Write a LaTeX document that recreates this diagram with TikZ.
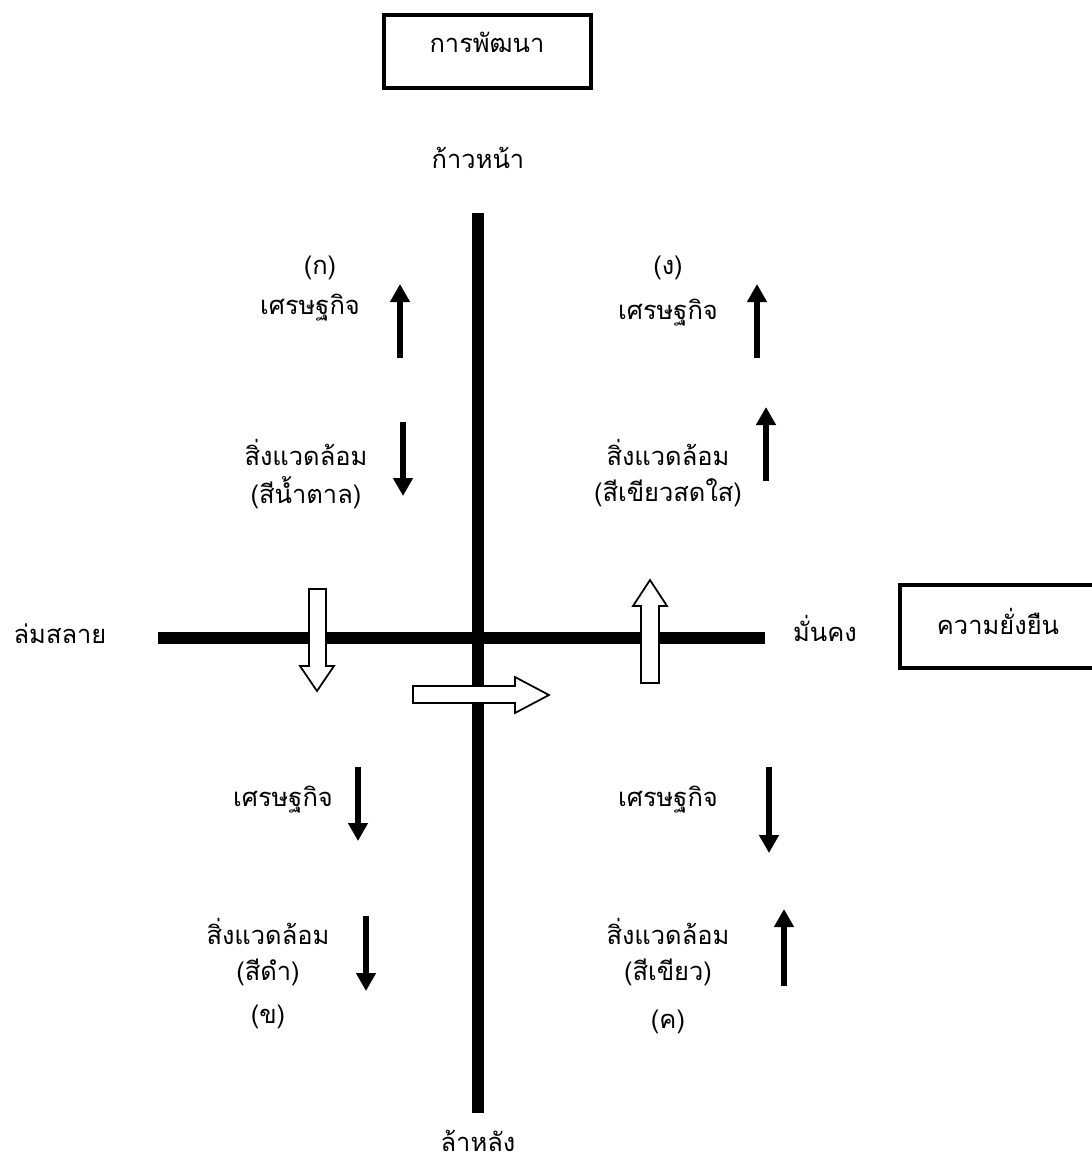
\documentclass[tikz,border=0pt]{standalone}
\usepackage{fontspec}
\newfontfamily\thaifont[Script=Thai]{Loma}
\usetikzlibrary{arrows.meta}

\tikzset{
  lbl/.style={font=\thaifont\fontsize{14.5}{17}\selectfont, inner sep=0pt},
  axis/.style={line width=6.8pt},
  ind/.style={line width=3.4pt, -{Triangle[length=0.36cm,width=0.38cm]}},
  blk/.style={draw, line width=1pt, fill=white, line join=miter},
  frm/.style={draw, line width=2.8pt}
}

\begin{document}
\begin{tikzpicture}[x=0.02cm,y=-0.02cm]
           \useasboundingbox (0,0) rectangle (1092,1171);
           % boxes
           \draw[frm] (384,15) rectangle (591,88);
           \node[lbl] (dev) at (487,42) {การพัฒนา};
           \draw[frm] (900,585) rectangle (1110,668);
           \node[lbl] (sus) at (998,621) {ความยั่งยืน};
           % axes
           \draw[axis] (478,213)--(478,1113); %แกนตั้ง
           \draw[axis] (158,638)--(765,638); %แกนนอน
           \node[lbl] (fwd) at (478,158) {ก้าวหน้า};
           \node[lbl] (bwd) at (478,1141) {ล้าหลัง};
           \node[lbl] (col) at (60,634) {ล่มสลาย};
           \node[lbl] (stb) at (825,628) {มั่นคง};
           % quadrant ก
           \node[lbl] (qa) at (320,268) {(ก)};
           \node[lbl] (qaeco) at (310,308) {เศรษฐกิจ};
           \node[lbl] (qaenv) at (306,452) {สิ่งแวดล้อม};
           \node[lbl] (qacol) at (306,493) {(สีน้ำตาล)};
           \draw[ind] (400,358)--(400,284);
           \draw[ind] (403,422)--(403,496);
           % quadrant ง
           \node[lbl] (qd) at (668,268) {(ง)};
           \node[lbl] (qdeco) at (668,313) {เศรษฐกิจ};
           \node[lbl] (qdenv) at (668,452) {สิ่งแวดล้อม};
           \node[lbl] (qdcol) at (668,493) {(สีเขียวสดใส)};
           \draw[ind] (757,358)--(757,284);
           \draw[ind] (766,481)--(766,407);
           % quadrant ข
           \node[lbl] (qbeco) at (283,800) {เศรษฐกิจ};
           \node[lbl] (qbenv) at (268,931) {สิ่งแวดล้อม};
           \node[lbl] (qbcol) at (268,972) {(สีดำ)};
           \node[lbl] (qb) at (268,1017) {(ข)};
           \draw[ind] (358,767)--(358,841);
           \draw[ind] (366,916)--(366,991);
           % quadrant ค
           \node[lbl] (qceco) at (668,800) {เศรษฐกิจ};
           \node[lbl] (qcenv) at (668,931) {สิ่งแวดล้อม};
           \node[lbl] (qccol) at (668,972) {(สีเขียว)};
           \node[lbl] (qc) at (668,1022) {(ค)};
           \draw[ind] (769,767)--(769,853);
           \draw[ind] (784,986)--(784,909);
           % block arrows
           \draw[blk] (309,589)--(326,589)--(326,666)--(334,666)--(317,691)--(300,666)--(309,666)--cycle;
           \draw[blk] (413,686)--(515,686)--(515,677)--(549,695)--(515,713)--(515,703)--(413,703)--cycle;
           \draw[blk] (641,683)--(641,606)--(633,606)--(650,580)--(667,606)--(659,606)--(659,683)--cycle;
\end{tikzpicture}
\end{document}
